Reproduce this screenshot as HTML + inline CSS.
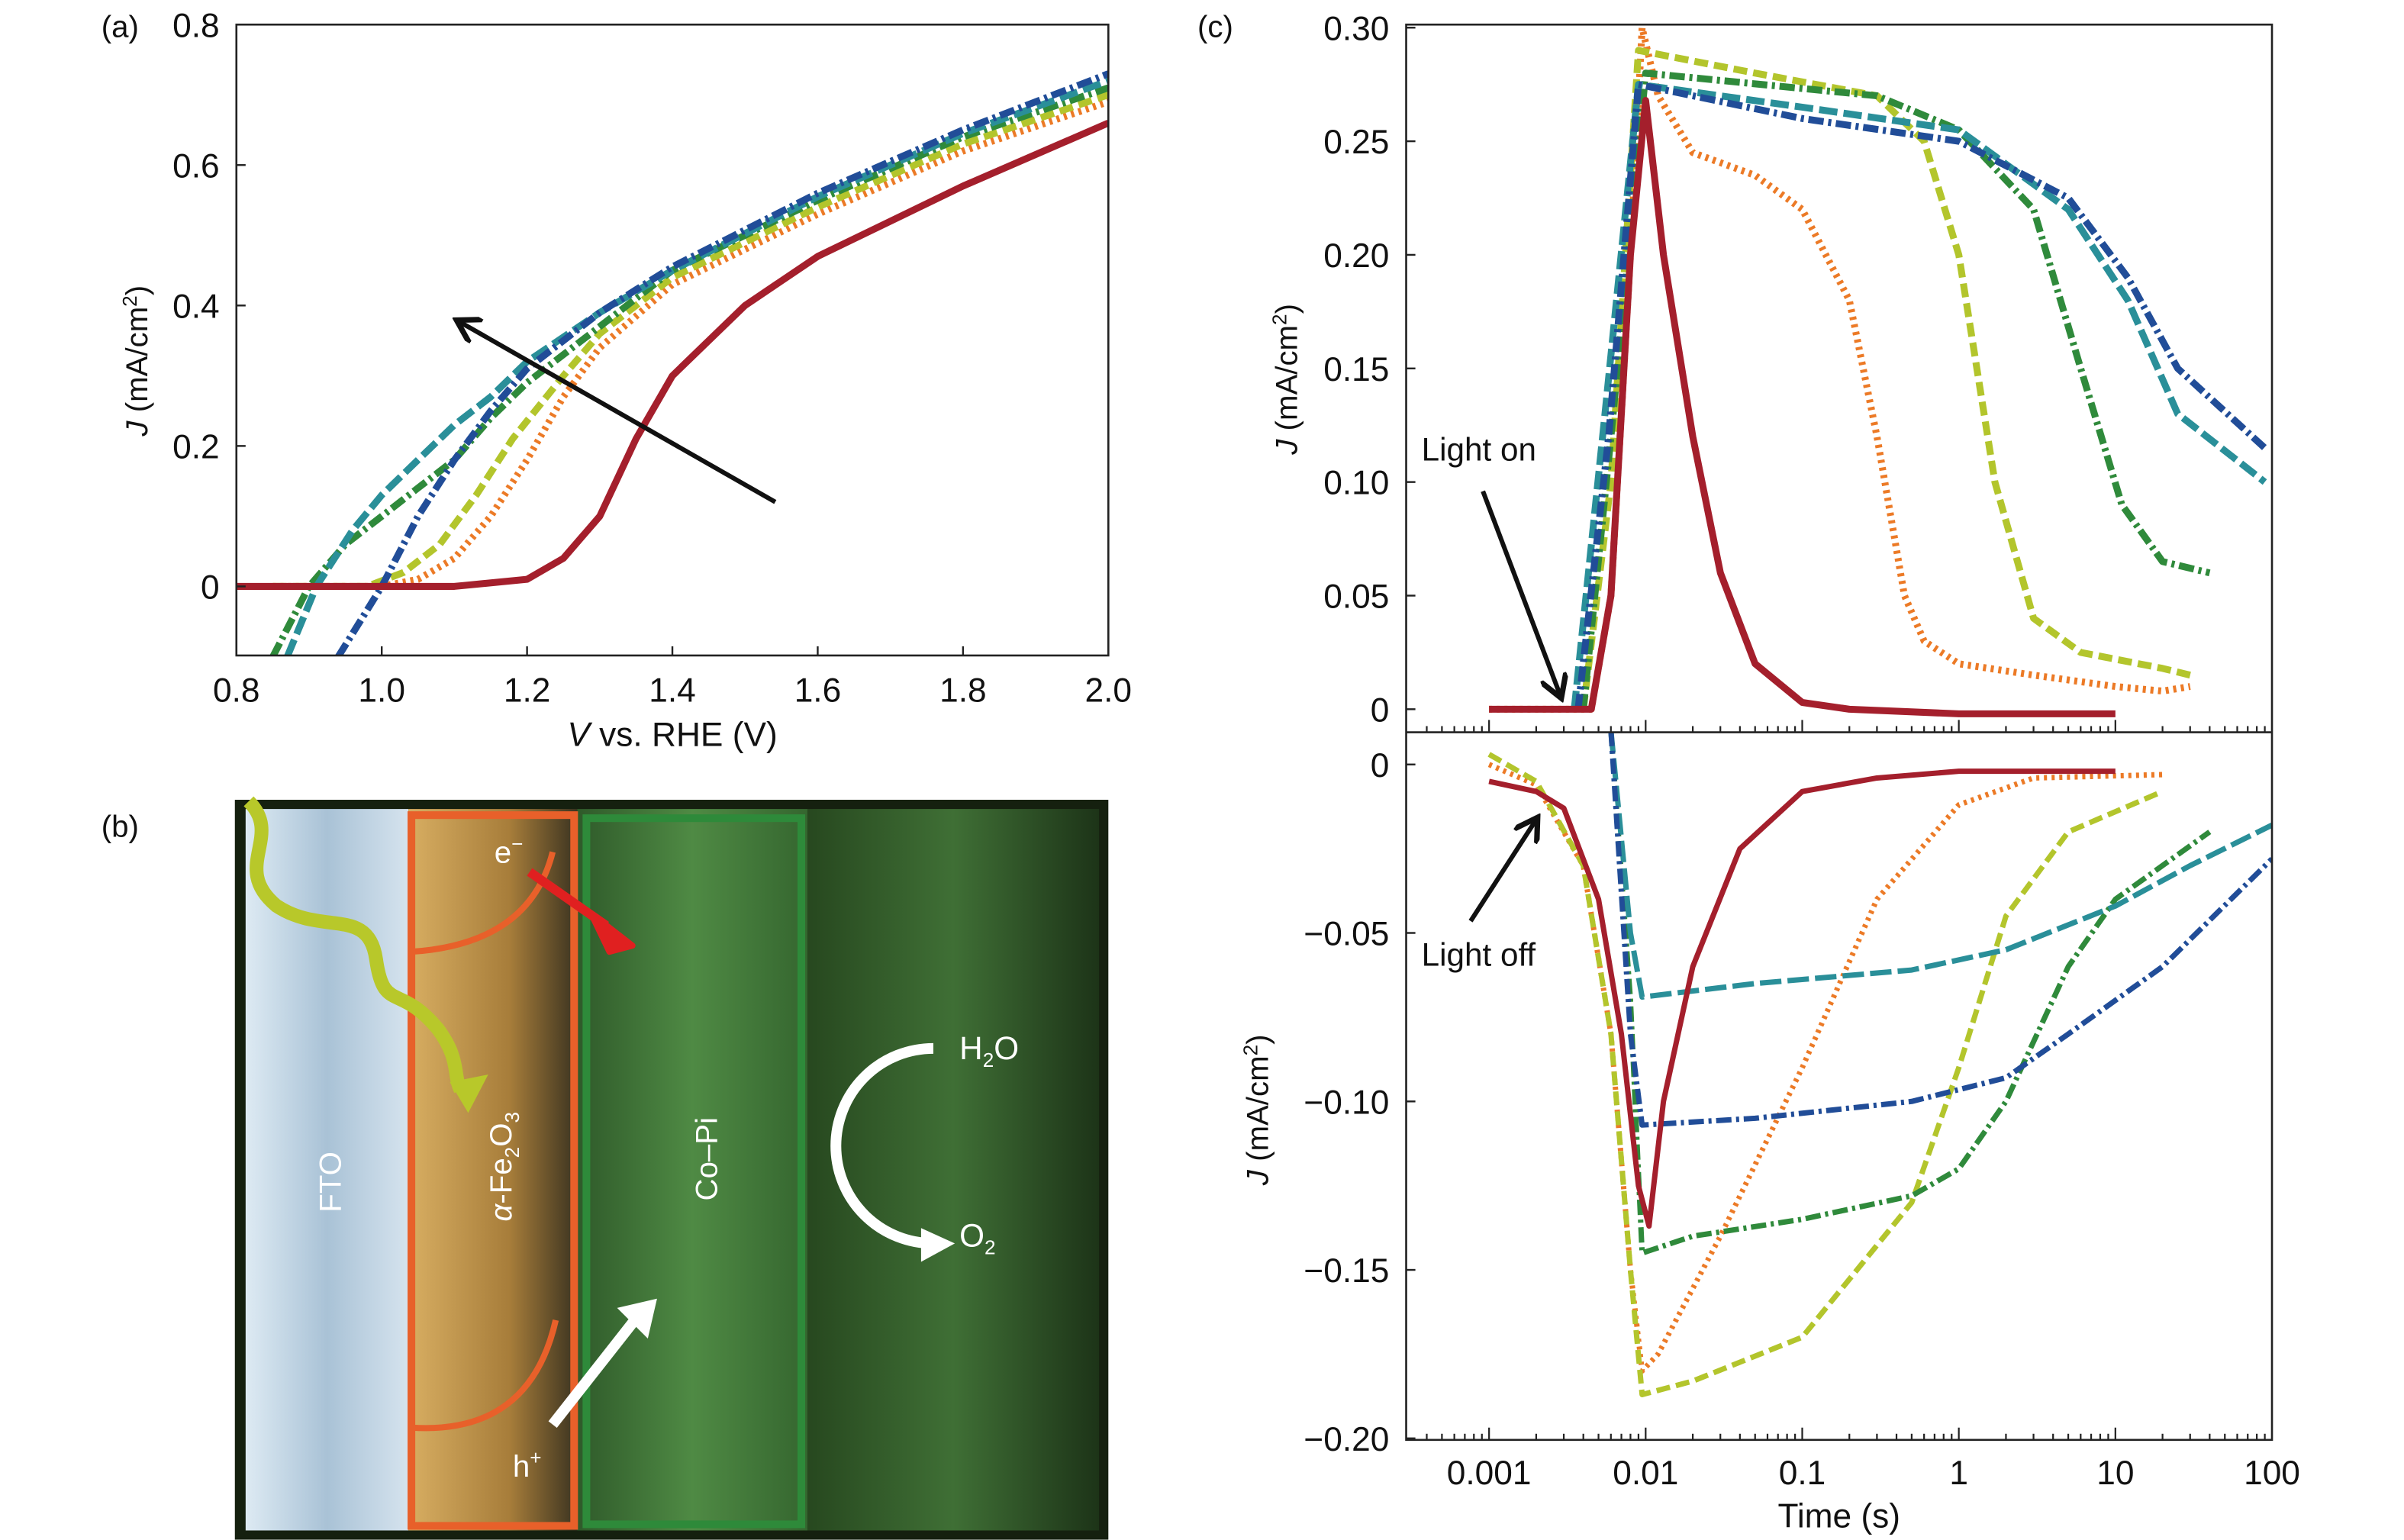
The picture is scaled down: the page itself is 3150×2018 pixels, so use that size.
<!DOCTYPE html>
<html><head><meta charset="utf-8"><style>
html,body{margin:0;padding:0;background:#fff}
svg{display:block}
text{font-family:"Liberation Sans","DejaVu Sans",sans-serif;fill:#111}
</style></head><body>
<svg id="fig" width="3150" height="2018" viewBox="0 0 1566 1003.2" xmlns="http://www.w3.org/2000/svg">
<defs>
<clipPath id="clipA"><rect x="154" y="16" width="568" height="411"/></clipPath>
<clipPath id="clipCT"><rect x="916" y="16" width="564" height="461"/></clipPath>
<clipPath id="clipCB"><rect x="916" y="477" width="564" height="461"/></clipPath>
<linearGradient id="gFTO" x1="0" x2="1"><stop offset="0" stop-color="#ddeaf3"/><stop offset="0.5" stop-color="#a9c2d6"/><stop offset="1" stop-color="#d5e3ee"/></linearGradient>
<linearGradient id="gFe" x1="0" x2="1"><stop offset="0" stop-color="#d8ae62"/><stop offset="0.6" stop-color="#a77d3a"/><stop offset="1" stop-color="#3b3320"/></linearGradient>
<linearGradient id="gCo" x1="0" x2="1"><stop offset="0" stop-color="#2f5a2a"/><stop offset="0.5" stop-color="#4f8a44"/><stop offset="1" stop-color="#35662f"/></linearGradient>
<linearGradient id="gEl" x1="0" x2="1"><stop offset="0" stop-color="#27481f"/><stop offset="0.5" stop-color="#3f6f35"/><stop offset="1" stop-color="#1d3418"/></linearGradient>
<marker id="ah" markerWidth="6" markerHeight="6" refX="4" refY="3" orient="auto"><path d="M0,0 L5,3 L0,6" fill="none" stroke="#111" stroke-width="1.2"/></marker>
</defs>

<!-- Panel (a) -->
<text x="66" y="24" font-size="20">(a)</text>
<g id="panelA"></g>
<rect x="154" y="16" width="568" height="411" fill="none" stroke="#222" stroke-width="1.3"/>
<text transform="translate(96,235) rotate(-90)" text-anchor="middle" font-size="20"><tspan font-style="italic">J</tspan> (mA/cm<tspan font-size="13" dy="-7">2</tspan><tspan dy="7">)</tspan></text>
<text x="438" y="486" text-anchor="middle" font-size="22"><tspan font-style="italic">V</tspan> vs. RHE (V)</text>
<line x1="505" y1="327" x2="300" y2="210" stroke="#111" stroke-width="3" marker-end="url(#ah)"/>

<!-- Panel (b) -->
<text x="66" y="545" font-size="20">(b)</text>
<g>
<rect x="153" y="521" width="569" height="482" fill="#15200f"/>
<rect x="160" y="527" width="106" height="470" fill="url(#gFTO)"/>
<rect x="266" y="527" width="110" height="470" fill="url(#gFe)"/>
<rect x="376" y="527" width="150" height="470" fill="url(#gCo)"/>
<rect x="526" y="527" width="190" height="470" fill="url(#gEl)"/>
<rect x="268" y="531" width="106" height="463" fill="none" stroke="#e8602a" stroke-width="5"/>
<rect x="382" y="533" width="140" height="460" fill="none" stroke="#2e8a3a" stroke-width="5"/>
<path d="M268,620 Q345,615 360,555" fill="none" stroke="#e8602a" stroke-width="4"/>
<path d="M268,930 Q345,935 362,860" fill="none" stroke="#e8602a" stroke-width="4"/>
<path d="M162,522 C185,545 150,565 180,590 C210,610 240,590 245,625 C250,660 260,640 285,670 C300,690 295,700 300,710" fill="none" stroke="#b8c82a" stroke-width="9"/>
<path d="M293,705 L318,700 L305,725 Z" fill="#b8c82a"/>
<path d="M345,568 L395,603" stroke="#e02020" stroke-width="6"/>
<path d="M385,595 L412,616 L397,620 Z" fill="#e02020" stroke="#e02020" stroke-width="4" stroke-linejoin="round"/>
<path d="M360,928 L415,858" stroke="#fff" stroke-width="7"/>
<path d="M402,852 L428,846 L422,872 Z" fill="#fff"/>
<path d="M608,683 A60,60 0 1,0 608,810" fill="none" stroke="#fff" stroke-width="7"/>
<path d="M600,800 L622,810 L600,822 Z" fill="#fff"/>
<text x="322" y="562" font-size="20" style="fill:#fff">e<tspan font-size="13" dy="-8">−</tspan></text>
<text x="334" y="962" font-size="20" style="fill:#fff">h<tspan font-size="13" dy="-8">+</tspan></text>
<text x="625" y="690" font-size="21" style="fill:#fff">H<tspan font-size="13" dy="5">2</tspan><tspan dy="-5">O</tspan></text>
<text x="625" y="812" font-size="21" style="fill:#fff">O<tspan font-size="13" dy="5">2</tspan></text>
<text transform="translate(222,770) rotate(-90)" text-anchor="middle" font-size="20" style="fill:#fff">FTO</text>
<text transform="translate(333,760) rotate(-90)" text-anchor="middle" font-size="20" style="fill:#fff"><tspan font-style="italic">α</tspan>-Fe<tspan font-size="13" dy="5">2</tspan><tspan dy="-5">O</tspan><tspan font-size="13" dy="5">3</tspan></text>
<text transform="translate(467,755) rotate(-90)" text-anchor="middle" font-size="20" style="fill:#fff">Co–Pi</text>
</g>

<!-- Panel (c) -->
<text x="780" y="24" font-size="20">(c)</text>
<g id="panelC"></g>
<rect x="916" y="16" width="564" height="922" fill="none" stroke="#222" stroke-width="1.3"/>
<line x1="916" y1="477" x2="1480" y2="477" stroke="#222" stroke-width="1.3"/>
<text transform="translate(845,247) rotate(-90)" text-anchor="middle" font-size="20"><tspan font-style="italic">J</tspan> (mA/cm<tspan font-size="13" dy="-7">2</tspan><tspan dy="7">)</tspan></text>
<text transform="translate(826,723) rotate(-90)" text-anchor="middle" font-size="20"><tspan font-style="italic">J</tspan> (mA/cm<tspan font-size="13" dy="-7">2</tspan><tspan dy="7">)</tspan></text>
<text x="1198" y="995" text-anchor="middle" font-size="22">Time (s)</text>
<text x="926" y="300" font-size="21">Light on</text>
<line x1="966" y1="320" x2="1016" y2="452" stroke="#111" stroke-width="3" marker-end="url(#ah)"/>
<text x="926" y="629" font-size="21">Light off</text>
<line x1="958" y1="600" x2="1000" y2="535" stroke="#111" stroke-width="3" marker-end="url(#ah)"/>
</svg>
<script>
// ---------- Panel (a) data ----------
const aTicksX = [0.8,1.0,1.2,1.4,1.6,1.8,2.0];
const aTickLabelsX = ["0.8","1.0","1.2","1.4","1.6","1.8","2.0"];
const aTicksY = [0,0.2,0.4,0.6,0.8];
const aTickLabelsY = ["0","0.2","0.4","0.6","0.8"];
const aRedV = [0.8,1.1,1.2,1.25,1.3,1.35,1.4,1.5,1.6,1.8,2.0];
const aRedJ = [0,0,0.01,0.04,0.1,0.21,0.3,0.4,0.47,0.57,0.66];
const aOrangeV = [0.85,1.0,1.05,1.1,1.15,1.2,1.25,1.3,1.4,1.6,1.8,2.0];
const aOrangeJ = [0,0,0.01,0.04,0.1,0.18,0.27,0.34,0.43,0.53,0.62,0.69];
const aYellowV = [0.85,0.98,1.03,1.08,1.13,1.18,1.25,1.3,1.4,1.6,1.8,2.0];
const aYellowJ = [0,0,0.02,0.06,0.13,0.21,0.3,0.36,0.44,0.54,0.63,0.7];
const aGreenV = [0.85,0.9,0.95,1.0,1.05,1.1,1.15,1.2,1.3,1.4,1.6,1.8,2.0];
const aGreenJ = [-0.1,0.0,0.06,0.1,0.14,0.18,0.24,0.29,0.37,0.45,0.55,0.64,0.71];
const aTealV = [0.87,0.91,0.96,1.0,1.05,1.1,1.15,1.2,1.3,1.4,1.6,1.8,2.0];
const aTealJ = [-0.1,0.0,0.08,0.13,0.18,0.23,0.27,0.32,0.39,0.45,0.555,0.645,0.72];
const aBlueV = [0.94,1.0,1.05,1.1,1.15,1.2,1.3,1.4,1.6,1.8,2.0];
const aBlueJ = [-0.1,0.0,0.1,0.18,0.25,0.31,0.39,0.455,0.56,0.65,0.73];

// ---------- Panel (c) data ----------
const cTicksX = [0.001,0.01,0.1,1,10,100];
const cTickLabelsX = ["0.001","0.01","0.1","1","10","100"];
const cTopTicksY = [0,0.05,0.10,0.15,0.20,0.25,0.30];
const cTopTickLabelsY = ["0","0.05","0.10","0.15","0.20","0.25","0.30"];
const cBotTicksY = [0,-0.05,-0.10,-0.15,-0.20];
const cBotTickLabelsY = ["0","\u22120.05","\u22120.10","\u22120.15","\u22120.20"];

const onRedT = [0.001,0.0045,0.006,0.008,0.01,0.013,0.02,0.03,0.05,0.1,0.2,1,10];
const onRedJ = [0,0,0.05,0.2,0.268,0.2,0.12,0.06,0.02,0.003,0,-0.002,-0.002];
const onOrangeT = [0.001,0.0045,0.006,0.008,0.0095,0.012,0.02,0.05,0.1,0.2,0.3,0.45,0.6,1,3,10,20,30];
const onOrangeJ = [0,0,0.05,0.2,0.3,0.27,0.245,0.235,0.22,0.18,0.12,0.05,0.03,0.02,0.015,0.01,0.008,0.01];
const onYellowT = [0.004,0.006,0.009,0.05,0.3,0.6,1,1.7,3,6,20,30];
const onYellowJ = [0,0.1,0.29,0.28,0.27,0.25,0.2,0.1,0.04,0.025,0.018,0.015];
const onGreenT = [0.004,0.006,0.01,0.3,1,3,6,11,20,40];
const onGreenJ = [0,0.12,0.28,0.27,0.255,0.22,0.15,0.09,0.065,0.06];
const onTealT = [0.0035,0.0055,0.009,0.1,1,5,12,25,90];
const onTealJ = [0,0.13,0.275,0.265,0.255,0.22,0.18,0.13,0.1];
const onBlueT = [0.0037,0.0058,0.009,0.1,1,5,12,25,90];
const onBlueJ = [0,0.12,0.275,0.26,0.25,0.225,0.19,0.15,0.115];

const offRedT = [0.001,0.002,0.003,0.005,0.007,0.009,0.0105,0.013,0.02,0.04,0.1,0.3,1,10];
const offRedJ = [-0.005,-0.008,-0.013,-0.04,-0.08,-0.125,-0.137,-0.1,-0.06,-0.025,-0.008,-0.004,-0.002,-0.002];
const offOrangeT = [0.001,0.002,0.004,0.006,0.008,0.0095,0.012,0.03,0.1,0.3,1,3,20];
const offOrangeJ = [0.0,-0.006,-0.03,-0.08,-0.15,-0.18,-0.175,-0.14,-0.09,-0.04,-0.012,-0.004,-0.003];
const offYellowT = [0.001,0.002,0.004,0.006,0.008,0.0095,0.02,0.1,0.5,1,2,5,20];
const offYellowJ = [0.003,-0.005,-0.03,-0.08,-0.15,-0.187,-0.183,-0.17,-0.13,-0.09,-0.045,-0.02,-0.008];
const offGreenT = [0.006,0.008,0.0095,0.02,0.1,0.5,1,2,5,10,40];
const offGreenJ = [0.01,-0.07,-0.145,-0.14,-0.135,-0.128,-0.12,-0.1,-0.06,-0.04,-0.02];
const offTealT = [0.006,0.008,0.0095,0.05,0.5,2,10,30,100];
const offTealJ = [0.01,-0.05,-0.069,-0.065,-0.061,-0.055,-0.042,-0.03,-0.018];
const offBlueT = [0.006,0.008,0.0095,0.05,0.5,2,5,20,100];
const offBlueJ = [0.01,-0.08,-0.107,-0.105,-0.1,-0.093,-0.08,-0.06,-0.028];

const NS = "http://www.w3.org/2000/svg";
const COL = {red:"#a41f2c",orange:"#ec7a26",yellow:"#b3c52c",green:"#2f8a3b",teal:"#2a8f99",blue:"#214d98"};

function ax(v){return 154+(v-0.8)/1.2*568;}
function ay(j){return 382-j/0.8*366;}
function cx(t){return 970+(Math.log10(t)+3)*102;}
function cyTop(j){return 462-j/0.30*444;}
function cyBot(j){return 498+(j/(-0.20))*439;}

function mk(tag,attrs,parent){const e=document.createElementNS(NS,tag);for(const k in attrs)e.setAttribute(k,attrs[k]);parent.appendChild(e);return e;}

const A=document.getElementById('panelA');
const C=document.getElementById('panelC');

function series(parent,xs,ys,fx,fy,color,dash,name,clip,w){
  let d="";
  for(let i=0;i<xs.length;i++){d+=(i?"L":"M")+fx(xs[i]).toFixed(1)+","+fy(ys[i]).toFixed(1);}
  const p=mk('path',{d:d,fill:"none",stroke:color,"stroke-width":w||"4.5","stroke-dasharray":dash,"stroke-linejoin":"round","clip-path":clip},parent);
  
  
  return p;
}

// Panel A series
series(A,aOrangeV,aOrangeJ,ax,ay,COL.orange,"2 3","series-a-orange","url(#clipA)");
series(A,aYellowV,aYellowJ,ax,ay,COL.yellow,"9 4","series-a-yellow","url(#clipA)");
series(A,aGreenV,aGreenJ,ax,ay,COL.green,"10 3 2 3","series-a-green","url(#clipA)");
series(A,aTealV,aTealJ,ax,ay,COL.teal,"12 4","series-a-teal","url(#clipA)");
series(A,aBlueV,aBlueJ,ax,ay,COL.blue,"10 3 2 3","series-a-blue","url(#clipA)");
series(A,aRedV,aRedJ,ax,ay,COL.red,"","series-a-red","url(#clipA)");

aTicksX.forEach((v,i)=>{
  const t=mk('line',{x1:ax(v),x2:ax(v),y1:427,y2:421,stroke:"#222","stroke-width":"1.2"},A);
  
  
  const l=mk('text',{x:ax(v),y:457,"text-anchor":"middle","font-size":"22"},A);
  l.textContent=aTickLabelsX[i];
  
  
});
aTicksY.forEach((v,i)=>{
  const t=mk('line',{x1:154,x2:160,y1:ay(v),y2:ay(v),stroke:"#222","stroke-width":"1.2"},A);
  
  
  const l=mk('text',{x:143,y:ay(v)+8,"text-anchor":"end","font-size":"22"},A);
  l.textContent=aTickLabelsY[i];
  
  
});

// Panel C series top
series(C,onOrangeT,onOrangeJ,cx,cyTop,COL.orange,"2 3","series-c-on-orange","url(#clipCT)");
series(C,onYellowT,onYellowJ,cx,cyTop,COL.yellow,"9 4","series-c-on-yellow","url(#clipCT)");
series(C,onGreenT,onGreenJ,cx,cyTop,COL.green,"10 3 2 3","series-c-on-green","url(#clipCT)");
series(C,onTealT,onTealJ,cx,cyTop,COL.teal,"12 4","series-c-on-teal","url(#clipCT)");
series(C,onBlueT,onBlueJ,cx,cyTop,COL.blue,"10 3 2 3","series-c-on-blue","url(#clipCT)");
series(C,onRedT,onRedJ,cx,cyTop,COL.red,"","series-c-on-red","url(#clipCT)");
// bottom
series(C,offOrangeT,offOrangeJ,cx,cyBot,COL.orange,"2 3","series-c-off-orange","url(#clipCB)","3.5");
series(C,offYellowT,offYellowJ,cx,cyBot,COL.yellow,"9 4","series-c-off-yellow","url(#clipCB)","3.5");
series(C,offGreenT,offGreenJ,cx,cyBot,COL.green,"10 3 2 3","series-c-off-green","url(#clipCB)","3.5");
series(C,offTealT,offTealJ,cx,cyBot,COL.teal,"14 4","series-c-off-teal","url(#clipCB)","3.5");
series(C,offBlueT,offBlueJ,cx,cyBot,COL.blue,"10 3 2 3","series-c-off-blue","url(#clipCB)","3.5");
series(C,offRedT,offRedJ,cx,cyBot,COL.red,"","series-c-off-red","url(#clipCB)","3.5");

// Panel C ticks
for(let dec=-4;dec<=1;dec++){
  for(let m=1;m<=9;m++){
    const t=m*Math.pow(10,dec);
    const x=cx(t);
    if(x<917||x>1480)continue;
    const len=(m===1)?8:4;
    const a=mk('line',{x1:x,x2:x,y1:938,y2:938-len,stroke:"#222","stroke-width":"1.1"},C);
    
    
    const b=mk('line',{x1:x,x2:x,y1:477,y2:477-len,stroke:"#222","stroke-width":"1.1"},C);
    
    
  }
}
cTicksX.forEach((v,i)=>{
  const l=mk('text',{x:cx(v),y:967,"text-anchor":"middle","font-size":"22"},C);
  l.textContent=cTickLabelsX[i];
  
  
});
cTopTicksY.forEach((v,i)=>{
  const t=mk('line',{x1:916,x2:922,y1:cyTop(v),y2:cyTop(v),stroke:"#222","stroke-width":"1.2"},C);
  
  
  const l=mk('text',{x:905,y:cyTop(v)+8,"text-anchor":"end","font-size":"22"},C);
  l.textContent=cTopTickLabelsY[i];
  
  
});
cBotTicksY.forEach((v,i)=>{
  const t=mk('line',{x1:916,x2:922,y1:cyBot(v),y2:cyBot(v),stroke:"#222","stroke-width":"1.2"},C);
  
  
  const l=mk('text',{x:905,y:cyBot(v)+8,"text-anchor":"end","font-size":"22"},C);
  l.textContent=cBotTickLabelsY[i];
  
  
});
</script>
</body></html>
